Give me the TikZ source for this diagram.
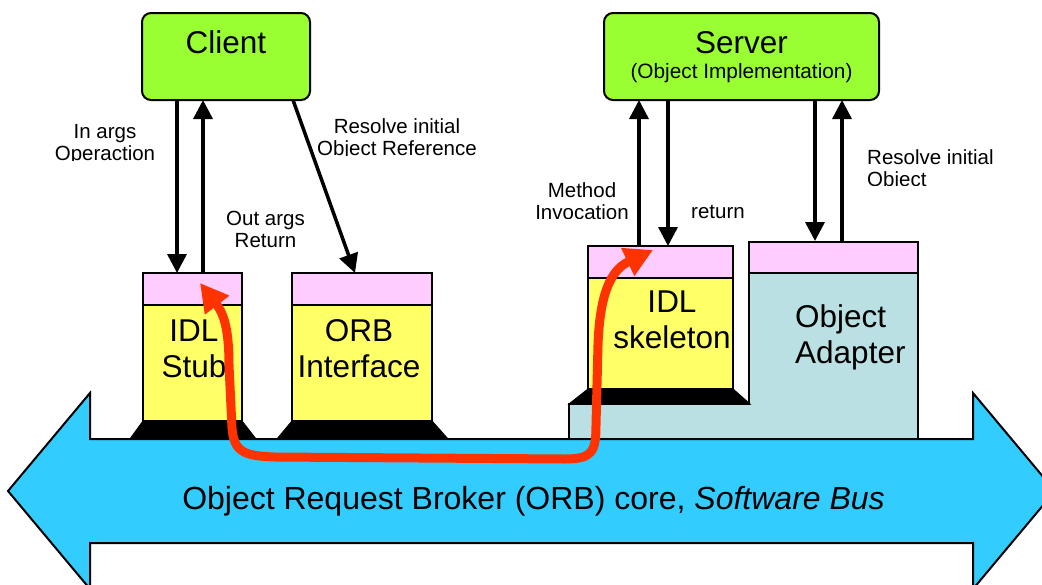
\documentclass[tikz,border=0pt]{standalone}
\usepackage{fontspec}
\setmainfont{Liberation Sans}
\usetikzlibrary{arrows.meta}
\definecolor{hostgreen}{HTML}{99FF33}
\definecolor{cappink}{HTML}{FFCCFF}
\definecolor{bodyyellow}{HTML}{FFFF66}
\definecolor{adapterteal}{HTML}{BAE0E3}
\definecolor{buscyan}{HTML}{33CCFF}
\definecolor{flowred}{HTML}{FF3300}

\begin{document}
\begin{tikzpicture}[x=1pt,y=-1pt,
  outline/.style={draw=black, line width=2pt, inner sep=0pt, outer sep=0pt},
  hostbox/.style={outline, fill=hostgreen, rounded corners=9pt},
  capbox/.style={outline, fill=cappink},
  bodybox/.style={outline, fill=bodyyellow},
  shapeline/.style={draw=black, line width=2pt, line join=miter},
  footing/.style={fill=black, draw=black, line width=1pt, line join=miter},
  bigtext/.style={font=\fontsize{31.5}{36}\selectfont, inner sep=0pt, align=center},
  subtext/.style={font=\fontsize{20.8}{24}\selectfont, inner sep=0pt},
  lbl/.style={font=\fontsize{20.5}{22}\selectfont, inner sep=0pt, align=center},
  bustext/.style={font=\fontsize{32}{36}\selectfont, inner sep=0pt},
  call/.style={line width=3.5pt, -{Triangle[length=19pt,width=19pt]}},
  flow/.style={draw=flowred, line width=9pt, line cap=round,
    {Triangle[length=28pt,width=29pt]}-{Triangle[length=28pt,width=29pt]}}
]
\useasboundingbox (0,0) rectangle (1042,584);
\clip (0,0) rectangle (1042,584);

% software bus: double-headed block arrow
\path[shapeline, fill=buscyan] (8,491) -- (90,393) -- (90,439) -- (973,439)
  -- (973,393) -- (1055,491) -- (973,589) -- (973,543) -- (90,543)
  -- (90,589) -- cycle;
\node[bustext, anchor=base] (busname) at (533.5,509)
  {Object Request Broker (ORB) core, \textit{Software Bus}};

% top level components
\node[hostbox, minimum width=168pt, minimum height=87pt] (client) at (226,56.5) {};
\node[bigtext, anchor=base] (clientname) at (226,53) {Client};
\node[hostbox, minimum width=275pt, minimum height=87pt] (server) at (741.5,56.5) {};
\node[bigtext, anchor=base] (servername) at (741.5,53) {Server};
\node[subtext, anchor=base] (serverrole) at (741.5,78) {(Object Implementation)};

% object adapter (stepped body)
\node[capbox, minimum width=169pt, minimum height=31pt] (oatop) at (833.5,257.5) {};
\path[shapeline, fill=adapterteal] (oatop.south west) -- (oatop.south east)
  -- (918,439) -- (569,439) -- (569,404) -- (749,404) -- cycle;
\node[bigtext, align=left, anchor=base west] (oaname) at (795,363) {Object\\Adapter};

% IDL stub
\node[capbox, minimum width=99pt, minimum height=32pt] (stubtop) at (192.5,289) {};
\node[bodybox, minimum width=99pt, minimum height=116pt] (stub) at (192.5,363) {};
\path[footing] (stub.south west) -- (stub.south east) -- (256,439) -- (130,439) -- cycle;
\node[bigtext, anchor=base] (stubname) at (194,377) {IDL\\Stub};

% ORB interface
\node[capbox, minimum width=140pt, minimum height=32pt] (orbtop) at (362,289) {};
\node[bodybox, minimum width=140pt, minimum height=116pt] (orb) at (362,363) {};
\path[footing] (orb.south west) -- (orb.south east) -- (448,439) -- (277,439) -- cycle;
\node[bigtext, anchor=base] (orbname) at (359,377) {ORB\\Interface};

% IDL skeleton
\node[capbox, minimum width=145pt, minimum height=32pt] (skeltop) at (660.5,262) {};
\node[bodybox, minimum width=145pt, minimum height=111pt] (skel) at (660.5,333.5) {};
\path[footing] (skel.south west) -- (skel.south east) -- (750,404) -- (569,404) -- cycle;
\node[bigtext, anchor=base] (skelname) at (672,348) {IDL\\skeleton};

% client side calls
\draw[call] (177,0 |- client.south) -- (177,0 |- stubtop.north);
\draw[call] (203,0 |- stubtop.north) -- (203,0 |- client.south);
\draw[call] ([xshift=-17pt]client.south east) -- (355,0 |- orbtop.north);

% server side calls
\draw[call] (639,0 |- skeltop.north) -- (639,0 |- server.south);
\draw[call] (668,0 |- server.south) -- (668,0 |- skeltop.north);
\draw[call] (815,0 |- server.south) -- (815,241);
\draw[call] (842,0 |- oatop.north) -- (842,0 |- server.south);

% call labels, cut off by their text frames
\begin{scope}
  \clip (30,110) rectangle (180,160.5);
  \node[lbl, anchor=base] (inargs) at (105,160) {In args\\Operaction};
\end{scope}
\begin{scope}
  \clip (300,105) rectangle (500,155.5);
  \node[lbl, anchor=base] (resolveorb) at (397,155) {Resolve initial\\Object Reference};
\end{scope}
\begin{scope}
  \clip (210,195) rectangle (320,248);
  \node[lbl, anchor=base] (outargs) at (265.5,247) {Out args\\Return};
\end{scope}
\begin{scope}
  \clip (520,170) rectangle (640,218.5);
  \node[lbl, anchor=base] (method) at (582,219) {Method\\Invocation};
\end{scope}
\node[lbl, anchor=base] (returnlbl) at (718,218) {return};
\begin{scope}
  \clip (850,135) rectangle (1040,185.5);
  \node[lbl, align=left, anchor=base west] (resolveoa) at (867,186) {Resolve initial\\Object};
\end{scope}

% request path through the bus
\coordinate (stubend) at (200,283);
\coordinate (skelend) at (653,250);
\draw[flow] (stubend) .. controls (224,314) and (229,330) .. (229,365)
  -- (232,428) .. controls (234,452) and (244,456) .. (275,457)
  -- (565,459) .. controls (592,459) and (596,452) .. (596,425)
  -- (598,345) .. controls (600,285) and (615,268) .. (skelend);
\end{tikzpicture}
\end{document}
